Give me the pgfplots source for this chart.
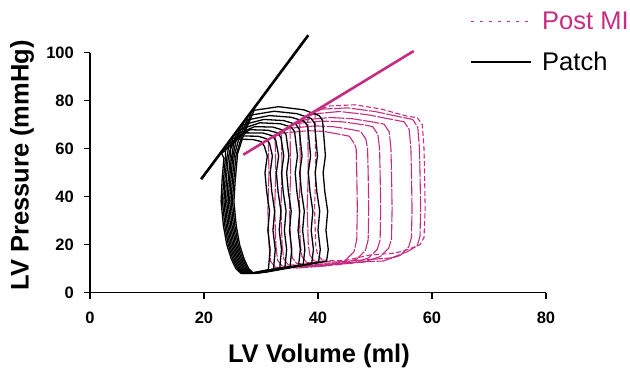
\documentclass[border=0pt]{standalone}
\usepackage{pgfplots}
\pgfplotsset{compat=1.18}
\usepackage{fontspec}
\setmainfont{Liberation Sans}
\definecolor{postmi}{RGB}{198,44,128}
\begin{document}
\begin{tikzpicture}
\begin{axis}[
  scale only axis, width=456pt, height=240pt,
  xmin=0, xmax=80, ymin=0, ymax=100,
  axis lines=left, axis line style={-, line width=1.4pt},
  clip=false,
  xtick={0,20,40,60,80}, ytick={0,20,40,60,80,100},
  tick align=outside, major tick length=6pt,
  tick style={line width=1.4pt, black},
  /pgf/number format/assume math mode=true,
  ticklabel style={font=\fontsize{16.5}{19}\selectfont\bfseries},
  xticklabel style={inner sep=0pt, anchor=north, yshift=-13pt},
  yticklabel style={inner sep=0pt, anchor=east, xshift=-10pt},
  xlabel={LV Volume (ml)}, ylabel={LV Pressure (mmHg)},
  label style={font=\fontsize{25.5}{30}\selectfont\bfseries, inner sep=0pt},
  xlabel style={at={(rel axis cs:0.502,-0.212)}, anchor=north},
  ylabel style={at={(rel axis cs:-0.1754,0.53)}, anchor=north, rotate=0},
  legend style={draw=none, fill=none, at={(rel axis cs:0.833,1.179)}, anchor=north west,
    font=\fontsize{25.5}{30}\selectfont, row sep=17pt, column sep=9pt, inner sep=0pt,
    nodes={inner sep=2pt}},
  legend cell align=left,
  legend image code/.code={\draw[#1] (0pt,0pt) -- (60pt,0pt);},
]
\addlegendimage{postmi, line width=1.2pt, dash pattern=on 3pt off 6pt}
\addlegendentry{\textcolor{postmi}{Post MI}}
\addlegendimage{black, line width=1.2pt}
\addlegendentry{Patch}

% Post MI loops
\addplot[postmi, line width=1.1pt, dash pattern=on 16pt off 1.5pt, forget plot] coordinates {
(32.5,10.6) (36.3,10.3) (41.8,11.2) (44.8,13.5) (46.3,17) (46.8,22) (46.9,35) (46.8,50) (46.7,60) (46.4,62) (45.5,65.2) (43.8,66) (41.0,67.2) (38.3,67.5) (33.8,66.5) (31.3,63.9) (31.3,60.9) (31.4,50) (31.2,35) (31.4,20) (31.7,13) (32.5,10.6)};
\addplot[postmi, line width=1.1pt, dash pattern=on 16pt off 1.5pt, forget plot] coordinates {
(33.7,11.1) (37.5,10.8) (43.8,11.7) (46.8,14) (48.3,17.5) (48.8,22) (48.9,35) (48.8,50) (48.7,60) (48.4,64) (47.5,67.2) (45.8,68) (42.6,69.2) (39.5,69.5) (35.0,68.5) (32.5,65.6) (32.5,62.6) (32.6,50) (32.4,35) (32.6,20) (32.9,13.5) (33.7,11.1)};
\addplot[postmi, line width=1.1pt, dash pattern=on 16pt off 1.5pt, forget plot] coordinates {
(34.8,11.6) (38.6,11.3) (45.9,12.2) (48.9,14.5) (50.4,18) (50.9,22) (51.0,35) (50.9,50) (50.8,60) (50.5,66) (49.6,69.2) (47.9,70) (44.3,71.2) (40.6,71.5) (36.1,70.5) (33.6,67.2) (33.6,64.2) (33.7,50) (33.5,35) (33.7,20) (34.0,14) (34.8,11.6)};
\addplot[postmi, line width=1.1pt, dash pattern=on 16pt off 1.5pt, forget plot] coordinates {
(36.3,12.1) (40.1,11.8) (47.9,12.7) (50.9,15) (52.4,18.5) (52.9,22.5) (53.0,35) (52.9,50) (52.8,60) (52.5,67) (51.6,70.2) (49.9,71) (46.0,72.5) (42.1,73.0) (37.6,72.0) (35.1,69.3) (35.1,66.3) (35.2,50) (35.0,35) (35.2,20) (35.5,14.5) (36.3,12.1)};
\addplot[postmi, line width=1.1pt, dash pattern=on 16pt off 1.5pt, forget plot] coordinates {
(38.0,12.6) (41.8,12.3) (51.4,13.2) (54.4,15.5) (55.9,19) (56.4,23) (56.5,35) (56.4,50) (56.3,60) (56.0,68) (55.1,71.2) (53.4,72) (48.6,74.2) (43.8,75.5) (39.3,74.5) (36.8,71.8) (36.8,68.8) (36.9,50) (36.7,35) (36.9,20) (37.2,15) (38.0,12.6)};
\addplot[postmi, line width=1.1pt, dash pattern=on 16pt off 1.5pt, forget plot] coordinates {
(39.4,13.1) (43.2,12.8) (52.9,14.5) (55.6,17.0) (57.4,19.5) (57.9,23.5) (58.0,35) (57.9,50) (57.8,60) (57.5,69) (56.6,72.2) (54.9,73) (50.0,75.5) (45.2,77.0) (40.7,76.5) (38.2,73.8) (38.2,70.8) (38.3,50) (38.1,35) (38.3,20) (38.6,15.5) (39.4,13.1)};
\addplot[postmi, line width=1.1pt, dash pattern=on 5pt off 2.5pt, forget plot] coordinates {
(40.7,13.6) (44.5,13.3) (49.1,15.7) (53.5,16.5) (55.8,18.0) (57.9,20) (58.6,23) (58.8,35) (58.7,50) (58.6,60) (58.3,70) (57.4,73) (55.7,73.5) (51.1,76.5) (46.5,78.3) (42.0,77.8) (39.5,75.7) (39.5,72.7) (39.6,50) (39.4,35) (39.6,20) (39.9,16) (40.7,13.6)};

% Patch loops
\addplot[black, line width=1.3pt, forget plot] coordinates {
(26.5,8.0) (28.7,8.4) (31.3,9.6) (31.6,18) (31.2,26) (31.5,34) (31.0,42) (30.7,50) (31.1,57) (30.6,61) (30.0,63) (28.6,63.8) (25.9,64.0) (23.1,58) (23.5,56) (23.2,48) (23.0,38) (23.4,28) (24.0,20) (24.8,14) (25.6,10) (26.5,8.0)};
\addplot[black, line width=1.3pt, forget plot] coordinates {
(26.75,8.0) (28.95,8.3) (32.2,9.9) (32.5,18) (32.1,26) (32.4,34) (31.9,42) (31.6,50) (32.0,57) (31.5,62.2) (30.9,64.2) (29.5,65.2) (26.6,65.3) (23.8,60) (23.75,56) (23.45,48) (23.25,38) (23.65,28) (24.25,20) (25.05,14) (25.85,10) (26.75,8.0)};
\addplot[black, line width=1.3pt, forget plot] coordinates {
(27.0,8.0) (29.2,8.4) (33.3,10.3) (33.6,18) (33.2,26) (33.5,34) (33.0,42) (32.7,50) (33.1,57) (32.6,63.4) (32.0,65.4) (30.4,66.5) (27.4,66.6) (24.4,62) (24.0,56) (23.7,48) (23.5,38) (23.9,28) (24.5,20) (25.3,14) (26.1,10) (27.0,8.0)};
\addplot[black, line width=1.3pt, forget plot] coordinates {
(27.25,8.0) (29.45,8.4) (34.2,10.6) (34.5,18) (34.1,26) (34.4,34) (33.9,42) (33.6,50) (34.0,57) (33.5,64.6) (32.9,66.6) (31.2,67.7) (28.1,67.9) (25.0,64) (24.25,56) (23.95,48) (23.75,38) (24.15,28) (24.75,20) (25.55,14) (26.35,10) (27.25,8.0)};
\addplot[black, line width=1.3pt, forget plot] coordinates {
(27.5,8.0) (29.7,8.5) (35.1,10.9) (35.4,18) (35.0,26) (35.3,34) (34.8,42) (34.5,50) (34.9,57) (34.4,65.8) (33.8,67.8) (32.1,69.0) (28.9,69.2) (25.7,66) (24.7,60) (24.5,54) (24.2,46) (24.0,38) (24.4,28) (25.0,20) (25.8,14) (26.6,10) (27.5,8.0)};
\addplot[black, line width=1.3pt, forget plot] coordinates {
(27.75,8.0) (29.95,8.5) (36.6,11.4) (36.9,18) (36.5,26) (36.8,34) (36.3,42) (36.0,50) (36.4,57) (35.9,67) (35.3,69.0) (33.4,70.4) (29.8,70.8) (26.3,68) (25.2,62) (24.75,55) (24.45,46) (24.25,38) (24.65,28) (25.25,20) (26.05,14) (26.85,10) (27.75,8.0)};
\addplot[black, line width=1.3pt, forget plot] coordinates {
(28.0,8.0) (30.2,8.5) (37.4,11.7) (37.7,18) (37.3,26) (37.6,34) (37.1,42) (36.8,50) (37.2,57) (36.7,68.2) (36.1,70.2) (34.0,71.7) (30.5,72.2) (26.9,70) (25.6,63) (25.0,56) (24.7,46) (24.5,38) (24.9,28) (25.5,20) (26.3,14) (27.1,10) (28.0,8.0)};
\addplot[black, line width=1.3pt, forget plot] coordinates {
(28.25,8.0) (30.45,8.6) (38.9,12.2) (39.2,18) (38.8,26) (39.1,34) (38.6,42) (38.3,50) (38.7,57) (38.2,69.4) (37.6,71.4) (35.3,73.1) (31.5,73.8) (27.6,72) (26.1,64) (25.3,57) (24.95,46) (24.75,38) (25.15,28) (25.75,20) (26.55,14) (27.35,10) (28.25,8.0)};
\addplot[black, line width=1.3pt, forget plot] coordinates {
(28.5,8.0) (30.7,8.6) (40.1,12.7) (40.4,18) (40.0,26) (40.3,34) (39.8,42) (39.5,50) (39.9,57) (39.4,70.6) (38.8,72.6) (36.3,74.6) (32.3,75.6) (28.2,74) (26.6,65) (25.6,57) (25.2,46) (25.0,38) (25.4,28) (26.0,20) (26.8,14) (27.6,10) (28.5,8.0)};
\addplot[black, line width=1.3pt, forget plot] coordinates {
(28.75,8.0) (30.95,8.6) (41.5,13.1) (41.8,18) (41.4,26) (41.7,34) (41.2,42) (40.9,50) (41.3,57) (40.8,71.8) (40.2,73.8) (37.5,76.2) (33.1,77.5) (28.8,76) (27.0,66) (25.9,58) (25.45,46) (25.25,38) (25.65,28) (26.25,20) (27.05,14) (27.85,10) (28.75,8.0)};

% ESPVR lines
\addplot[black, line width=2.6pt, forget plot] coordinates {(19.5,47.3) (38.3,107.3)};
\addplot[postmi, line width=2.6pt, forget plot] coordinates {(26.9,57.5) (56.8,100.7)};

\coordinate (O) at (axis cs:0,0);
\end{axis}
\pgfresetboundingbox
\path (O) ++(-90pt,-76.3pt) rectangle ++(630pt,369pt);
\end{tikzpicture}
\end{document}
